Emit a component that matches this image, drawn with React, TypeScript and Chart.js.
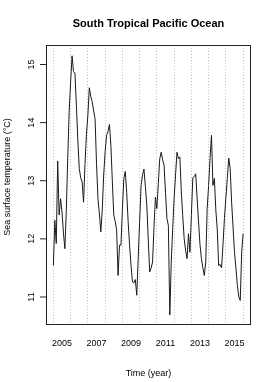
import React, { useEffect, useRef } from "react";
import { Chart, registerables } from "chart.js";

Chart.register(...registerables);

const chartTitle = "South Tropical Pacific Ocean";
const xTitle = "Time (year)";
const yTitle = "Sea surface temperature (°C)";

// monthly series starting July 2004
const startYear = 2004;
const startMonth = 7;
const sst = [
  11.54, 12.32, 11.92, 13.34, 12.41, 12.69, 12.46, 12.1, 11.83, 12.5, 13.4, 14.2,
  14.7, 15.15, 14.88, 14.85, 14.3, 13.7, 13.21, 13.05, 12.98, 12.63, 13.3, 13.8,
  14.13, 14.6, 14.45, 14.36, 14.2, 14.07, 13.3, 12.7, 12.43, 12.12, 12.5, 13.1,
  13.5, 13.78, 13.85, 13.97, 13.61, 13.0, 12.41, 12.3, 12.15, 11.37, 11.89, 11.89,
  12.5, 13.04, 13.16, 12.8, 12.3, 11.89, 11.55, 11.26, 11.24, 11.3, 11.03, 11.66,
  12.3, 12.92, 13.1, 13.2, 12.9, 12.58, 12.0, 11.43, 11.5, 11.6, 12.2, 12.72,
  12.52, 12.95, 13.38, 13.49, 13.36, 13.27, 12.8, 12.35, 12.23, 10.69, 11.6, 12.17,
  12.7, 13.1, 13.49, 13.38, 13.41, 12.81, 12.4, 12.0, 11.8, 11.66, 12.09, 11.77,
  12.4, 13.05, 13.07, 13.12, 12.7, 12.29, 11.9, 11.66, 11.5, 11.37, 11.6, 12.52,
  12.92, 13.4, 13.78, 12.92, 13.04, 12.5, 12.17, 11.54, 11.56, 11.5, 11.9, 12.35,
  12.7, 13.04, 13.39, 13.21, 12.63, 12.2, 11.77, 11.5, 11.2, 11.0, 10.94, 11.77,
  12.09,
];

const xTicks = [2005, 2007, 2009, 2011, 2013, 2015];
const yTicks = [11, 12, 13, 14, 15];
const gridYears = [
  2004.5, 2005.5, 2006.5, 2007.5, 2008.5, 2009.5, 2010.5, 2011.5, 2012.5,
  2013.5, 2014.5, 2015.5,
];

const FONT = "'Liberation Sans', Arial, Helvetica, sans-serif";

const rPlotPlugin = {
  id: "rPlot",
  beforeDatasetsDraw(chart: any) {
    const { ctx, chartArea, scales } = chart;
    const x = scales.x;
    ctx.save();
    ctx.strokeStyle = "#c4c4c4";
    ctx.lineWidth = 1;
    ctx.setLineDash([1, 2]);
    gridYears.forEach((g) => {
      const px = Math.floor(x.getPixelForValue(g)) + 0.5;
      ctx.beginPath();
      ctx.moveTo(px, chartArea.top);
      ctx.lineTo(px, chartArea.bottom);
      ctx.stroke();
    });
    ctx.restore();
  },
  afterDraw(chart: any) {
    const { ctx, chartArea, scales } = chart;
    const x = scales.x;
    const y = scales.y;
    const { left, right, top, bottom } = chartArea;
    const cx = (left + right) / 2;
    const cy = (top + bottom) / 2;
    ctx.save();
    // box
    ctx.strokeStyle = "#222";
    ctx.lineWidth = 1;
    ctx.strokeRect(left + 0.5, top + 0.5, right - left - 1, bottom - top - 1);
    // y ticks
    yTicks.forEach((v) => {
      const py = y.getPixelForValue(v);
      ctx.beginPath();
      ctx.moveTo(left - 6, py);
      ctx.lineTo(left, py);
      ctx.stroke();
    });
    ctx.fillStyle = "#000";
    ctx.font = `9px ${FONT}`;
    ctx.textAlign = "center";
    ctx.textBaseline = "alphabetic";
    yTicks.forEach((v) => {
      const py = y.getPixelForValue(v);
      ctx.save();
      ctx.translate(left - 12.5, py);
      ctx.rotate(-Math.PI / 2);
      ctx.fillText(String(v), 0, 0);
      ctx.restore();
    });
    xTicks.forEach((v) => {
      ctx.fillText(String(v), x.getPixelForValue(v), bottom + 21);
    });
    // axis titles
    ctx.fillText(xTitle, cx, bottom + 50.5);
    ctx.save();
    ctx.translate(10, cy - 8);
    ctx.rotate(-Math.PI / 2);
    ctx.fillText(yTitle, 0, 0);
    ctx.restore();
    // main title
    ctx.font = `bold 11px ${FONT}`;
    ctx.fillText(chartTitle, cx, 27);
    ctx.restore();
  },
};

export default function App() {
  const canvasRef = useRef<HTMLCanvasElement | null>(null);

  useEffect(() => {
    if (!canvasRef.current) return;
    const points = sst.map((v, i) => ({
      x: startYear + (startMonth - 1 + i) / 12,
      y: v,
    }));
    const chart = new Chart(canvasRef.current, {
      type: "line",
      data: {
        datasets: [
          {
            data: points,
            borderColor: "#1a1a1a",
            borderWidth: 1,
            pointRadius: 0,
            tension: 0,
            fill: false,
          },
        ],
      },
      options: {
        animation: false,
        responsive: false,
        devicePixelRatio: 1,
        layout: { padding: { top: 45, right: 23, left: 0, bottom: 0 } },
        plugins: {
          legend: { display: false },
          tooltip: { enabled: false },
          title: { display: false },
        },
        scales: {
          x: {
            type: "linear",
            bounds: "data",
            min: 2004.072,
            max: 2015.957,
            ticks: { display: false },
            grid: { display: false },
            border: { display: false },
            afterFit: (s: any) => {
              s.height = 57;
            },
          },
          y: {
            type: "linear",
            bounds: "data",
            min: 10.518,
            max: 15.3355,
            ticks: { display: false },
            grid: { display: false },
            border: { display: false },
            afterFit: (s: any) => {
              s.width = 46;
            },
          },
        },
      },
      plugins: [rPlotPlugin],
    });
    return () => chart.destroy();
  }, []);

  return (
    <div style={{ position: "absolute", left: 0, top: 0, width: 274, height: 382, background: "#fff" }}>
      <canvas ref={canvasRef} width={274} height={382} style={{ display: "block" }} />
    </div>
  );
}
